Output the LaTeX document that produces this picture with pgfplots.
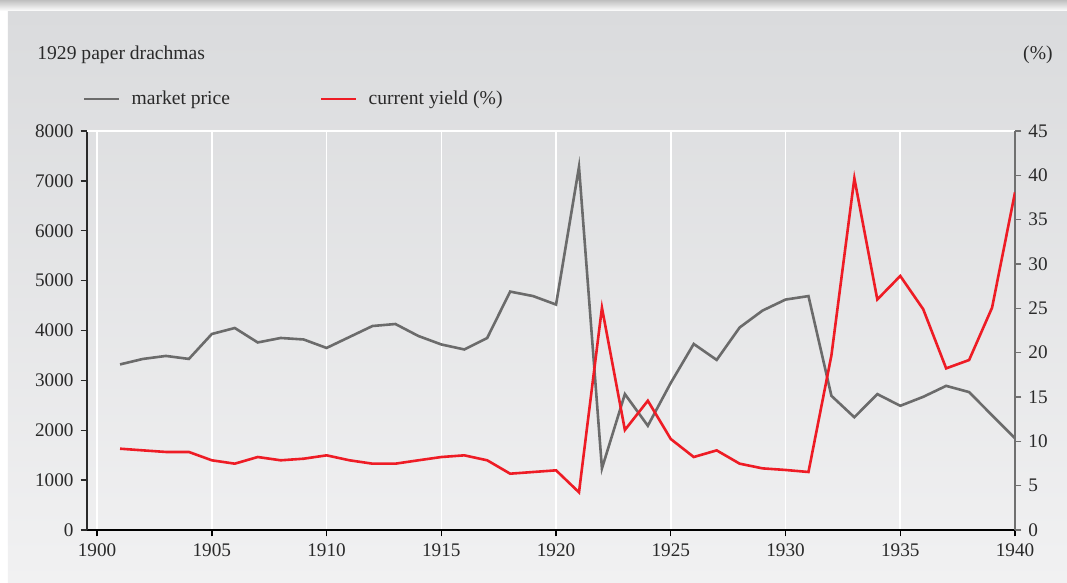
\documentclass[border=0pt]{standalone}
\usepackage{pgfplots}
\pgfplotsset{compat=1.18}
\usepackage{pgfplotstable}
\usepackage{fontspec}
\setmainfont{Liberation Serif}

\definecolor{pricegray}{HTML}{6B6B6B}
\definecolor{yieldred}{HTML}{EE1C25}
\definecolor{bgtop}{HTML}{DADBDD}
\definecolor{bgbot}{HTML}{F1F1F2}
\definecolor{txt}{HTML}{2A2A2A}
\definecolor{raxis}{HTML}{707070}

% market price, 1929 paper drachmas
\pgfplotstableread{
year price
1901 3320
1902 3430
1903 3490
1904 3430
1905 3930
1906 4050
1907 3760
1908 3850
1909 3820
1910 3650
1911 3870
1912 4090
1913 4130
1914 3890
1915 3720
1916 3620
1917 3850
1918 4780
1919 4690
1920 4520
1921 7280
1922 1235
1923 2725
1924 2090
1925 2950
1926 3730
1927 3410
1928 4060
1929 4400
1930 4620
1931 4690
1932 2690
1933 2260
1934 2725
1935 2490
1936 2670
1937 2890
1938 2765
1939 2300
1940 1840
}\pricetable

% current yield, %
\pgfplotstableread{
year yield
1901 9.17
1902 8.98
1903 8.80
1904 8.80
1905 7.86
1906 7.48
1907 8.23
1908 7.86
1909 8.04
1910 8.42
1911 7.86
1912 7.48
1913 7.48
1914 7.86
1915 8.23
1916 8.42
1917 7.86
1918 6.35
1919 6.54
1920 6.73
1921 4.25
1922 25.07
1923 11.28
1924 14.58
1925 10.26
1926 8.23
1927 8.98
1928 7.48
1929 6.95
1930 6.77
1931 6.54
1932 19.70
1933 39.66
1934 26.00
1935 28.65
1936 24.90
1937 18.23
1938 19.17
1939 25.07
1940 38.08
}\yieldtable

\pgfplotsset{
  base/.style={
    at={(0,0)}, anchor=south west,
    scale only axis, width=464pt, height=199.5pt,
    xmin=1899.56, xmax=1940,
    tick align=outside,
    major tick length=3.2pt,
    /pgf/number format/assume math mode=true,
    /pgf/number format/1000 sep={},
    ticklabel style={font=\fontsize{9.6}{11}\selectfont, text=txt},
  },
}

\begin{document}
\begin{tikzpicture}[font=\fontsize{9.8}{11}\selectfont]
% page, card shadow and panel
\fill[white] (-43.5pt,-26.5pt) rectangle (490pt,265pt);
\shade[top color=black!25, bottom color=white] (-43.5pt,259.5pt) rectangle (490pt,265pt);
\shade[top color=bgtop, bottom color=bgbot] (-39.5pt,-26.5pt) rectangle (490pt,259pt);

\node[anchor=base west, inner sep=0pt, text=txt] at (-25pt,235pt) {1929 paper drachmas};
\node[anchor=base east, inner sep=0pt, text=txt] at (483pt,235pt) {(\%)};

\begin{axis}[base,
  axis x line*=bottom, axis y line*=left,
  axis line style={-},
  ymin=0, ymax=8000, ytick={0,1000,...,8000},
  xtick={1900,1905,...,1940},
  xmajorgrids, major grid style={white, line width=0.8pt},
  x axis line style={black, line width=0.7pt},
  y axis line style={txt, line width=0.7pt},
  xtick style={black, line width=0.7pt},
  ytick style={txt, line width=0.7pt},
]
\draw[white, line width=0.8pt] (rel axis cs:0,1) -- (rel axis cs:1,1);
\addplot[pricegray, line width=1.3pt] table[x=year, y=price] {\pricetable};
\end{axis}

\begin{axis}[base,
  axis x line=none, axis y line*=right,
  axis line style={-},
  ymin=0, ymax=45, ytick={0,5,...,45},
  y axis line style={raxis, line width=0.7pt},
  ytick style={raxis, line width=0.7pt},
  legend columns=2,
  legend image code/.code={\draw[#1] (0pt,0pt) -- (17.5pt,0pt);},
  legend style={at={(axis description cs:-0.0043,1.080)}, anchor=west,
    draw=none, fill=none, inner sep=0pt, outer sep=0pt,
    font=\fontsize{9.8}{11}\selectfont, text=txt,
    nodes={inner sep=0pt},
    /tikz/every odd column/.append style={column sep=5.5pt},
    /tikz/every even column/.append style={column sep=45pt}},
]
\addlegendimage{pricegray, line width=1.3pt}
\addlegendentry{market price}
\addplot[yieldred, line width=1.3pt] table[x=year, y=yield] {\yieldtable};
\addlegendentry{current yield (\%)}
\end{axis}

\pgfresetboundingbox
\path[use as bounding box] (-43.5pt,-26.5pt) rectangle (490pt,265pt);
\end{tikzpicture}
\end{document}
